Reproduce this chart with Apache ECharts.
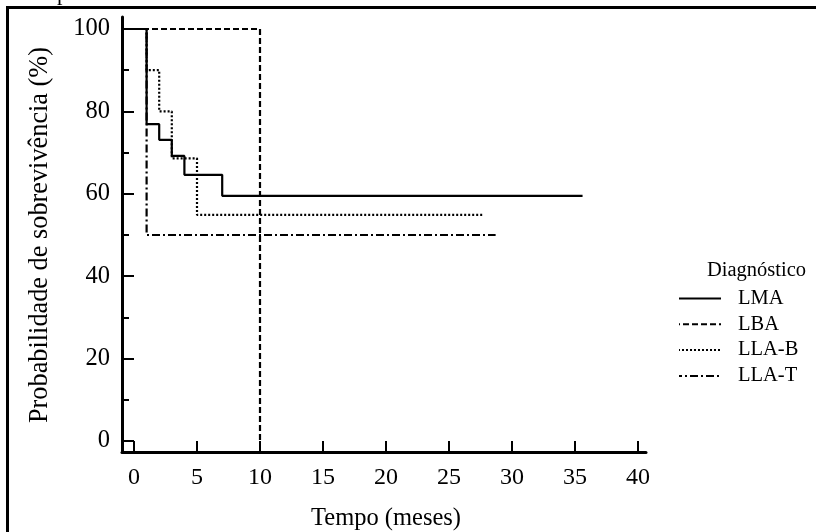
<!DOCTYPE html>
<html><head><meta charset="utf-8">
<script src="https://cdn.jsdelivr.net/npm/echarts@6/dist/echarts.min.js"></script>
<style>html,body{margin:0;padding:0;background:#fff}#c{width:816px;height:532px}</style>
</head><body><div id="c"></div>
<script>
const seriesNames = ['LMA', 'LBA', 'LLA-B', 'LLA-T'];
const lmaData = [[0,100],[1,76.9],[2,73.1],[3,69.2],[4,64.6],[7,59.5],[35.6,59.5]];
const lbaData = [[0,100],[10,0]];
const llabData = [[0,100],[1,90],[2,80],[3,68.6],[5,54.9],[27.7,54.9]];
const llatData = [[0,100],[1,50],[28.7,50]];
const xTicks = [0,5,10,15,20,25,30,35,40];
const yTicks = [0,20,40,60,80,100];
const xTitle = 'Tempo (meses)';
const yTitle = 'Probabilidade de sobrevivência (%)';
const legendTitle = 'Diagnóstico';

const FONT = '"Liberation Serif", "DejaVu Serif", serif';
const dashStyles = ['solid', [6,3], [2,2], [8,3,2,3]];
const dataSets = [lmaData, lbaData, llabData, llatData];

const chart = echarts.init(document.getElementById('c'));
chart.setOption({
  backgroundColor: '#fff',
  animation: false,
  grid: [
    {left: 134, right: 178, top: 29, bottom: 91, outerBoundsMode: 'none', containLabel: false},
    {left: 122, right: 170, top: 17, bottom: 80, outerBoundsMode: 'none', containLabel: false}
  ],
  xAxis: [
    {gridIndex: 0, type: 'value', min: xTicks[0], max: xTicks[xTicks.length-1], interval: 5,
     axisLine: {show: false},
     axisTick: {show: true, inside: false, length: 10, lineStyle: {color: '#000', width: 2}},
     axisLabel: {color: '#000', fontFamily: FONT, fontSize: 24, margin: 25},
     splitLine: {show: false},
     name: xTitle, nameLocation: 'middle', nameGap: 65,
     nameTextStyle: {color: '#000', fontFamily: FONT, fontSize: 24.5}},
    {gridIndex: 1, type: 'value', min: 0, max: 1, show: true,
     axisLine: {show: true, onZero: false, lineStyle: {color: '#000', width: 3}},
     axisTick: {show: false}, axisLabel: {show: false}, splitLine: {show: false}}
  ],
  yAxis: [
    {gridIndex: 0, type: 'value', min: yTicks[0], max: yTicks[yTicks.length-1], interval: 20,
     axisLine: {show: false},
     axisTick: {show: true, inside: false, length: 10, lineStyle: {color: '#000', width: 2}},
     minorTick: {show: true, splitNumber: 2, length: 10, lineStyle: {color: '#000', width: 2, type: [5,5], dashOffset: 5}},
     axisLabel: {color: '#000', fontFamily: FONT, fontSize: 24.5, margin: 24},
     splitLine: {show: false}, minorSplitLine: {show: false},
     name: yTitle, nameLocation: 'middle', nameGap: 81, nameRotate: 90,
     nameTextStyle: {color: '#000', fontFamily: FONT, fontSize: 26.3}},
    {gridIndex: 1, type: 'value', min: 0, max: 1, show: true,
     axisLine: {show: true, onZero: false, lineStyle: {color: '#000', width: 3}},
     axisTick: {show: false}, axisLabel: {show: false}, splitLine: {show: false}}
  ],
  legend: {
    orient: 'vertical', left: 678, top: 288, padding: 0,
    itemWidth: 42, itemHeight: 14, itemGap: 4.8,
    itemStyle: {opacity: 0},
    data: seriesNames,
    textStyle: {color: '#000', fontFamily: FONT, fontSize: 20.5, padding: [0,0,0,12]}
  },
  graphic: [
    {type: 'text', left: 707, top: 260, style: {text: legendTitle, font: '20.5px ' + FONT, fill: '#000'}},
    {type: 'rect', shape: {x: 6, y: 6, width: 820, height: 3}, style: {fill: '#000'}},
    {type: 'rect', shape: {x: 6, y: 6, width: 3, height: 540}, style: {fill: '#000'}},
    {type: 'text', x: 57, y: -17, style: {text: 'p', font: '22px ' + FONT, fill: '#000'}}
  ],
  series: seriesNames.map((n, i) => ({
    name: n, type: 'line', xAxisIndex: 0, yAxisIndex: 0,
    step: 'end', symbol: 'none', data: dataSets[i],
    lineStyle: {color: '#000', width: 2.2, type: dashStyles[i]},
    itemStyle: {color: '#000'}
  }))
});
</script></body></html>
